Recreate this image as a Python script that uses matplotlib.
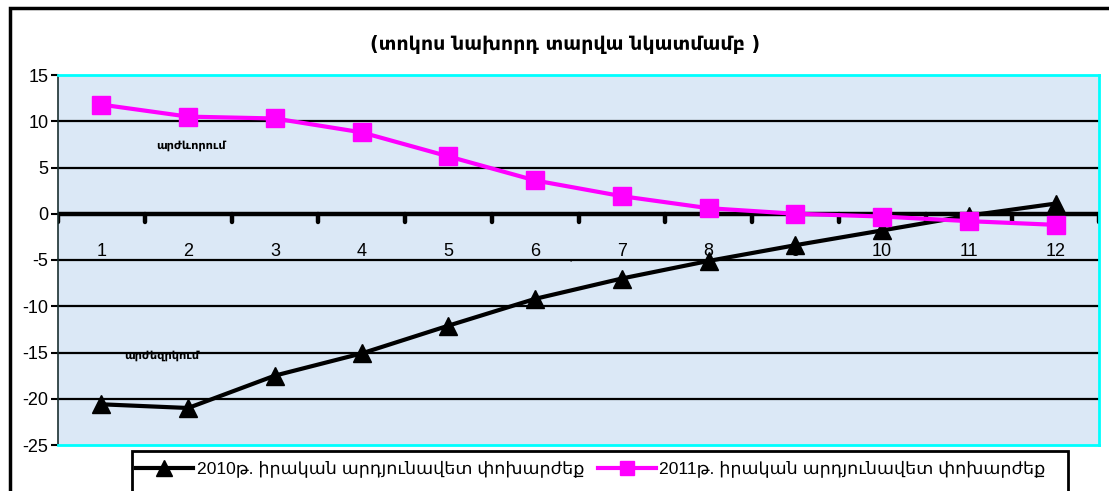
import matplotlib
matplotlib.use("Agg")
import matplotlib.pyplot as plt
from matplotlib.patches import Rectangle
from matplotlib.lines import Line2D
import numpy as np

plt.rcParams["font.family"] = ["Liberation Sans", "DejaVu Sans"]
plt.rcParams["axes.unicode_minus"] = False

months = list(range(1, 13))
rate_2010 = [-20.6, -21.0, -17.5, -15.1, -12.1, -9.2, -7.0, -5.1, -3.4, -1.8, -0.2, 1.1]
rate_2011 = [11.8, 10.5, 10.3, 8.8, 6.2, 3.6, 1.9, 0.6, 0.0, -0.3, -0.8, -1.2]
label_2010 = "2010թ. իրական արդյունավետ փոխարժեք"
label_2011 = "2011թ. իրական արդյունավետ փոխարժեք"
title = "(տոկոս նախորդ տարվա նկատմամբ )"
y_ticks = [15, 10, 5, 0, -5, -10, -15, -20, -25]

W, H = 1109, 491
fig = plt.figure(figsize=(W / 100, H / 100), dpi=100)
fig.patch.set_facecolor("white")

# outer frame (only left and top visible)
fig.patches.append(Rectangle((10 / W, -0.2), 1.2, 1.2 - 8 / H,
                             transform=fig.transFigure, fill=False,
                             edgecolor="black", lw=2.5))

ax = fig.add_axes([58 / W, 1 - 445 / H, (1099 - 58) / W, (445 - 75) / H])
ax.set_facecolor("#dbe8f6")
ax.set_xlim(0.5, 12.5)
ax.set_ylim(-25, 15)

for yv in y_ticks:
    if yv in (15, -25, 0):
        continue
    ax.axhline(yv, color="black", lw=1.6, zorder=1)

for s in ("top", "right", "bottom"):
    ax.spines[s].set_color("#00ffff")
    ax.spines[s].set_linewidth(2)
ax.spines["left"].set_color("#1a3030")
ax.spines["left"].set_linewidth(1.2)

ax.set_yticks(y_ticks)
ax.tick_params(axis="y", length=5, width=1.5, labelsize=13, pad=2)

# zero line with category-boundary ticks
ax.axhline(0, color="black", lw=3.2, zorder=2)
ax.set_xticks([])
for b in np.arange(0.5, 13, 1.0):
    ax.plot([b, b], [0, -0.85], color="black", lw=3.2, solid_capstyle="round", zorder=2)
for m in months:
    ax.text(m, -4.1, str(m), ha="center", va="center", fontsize=13, zorder=3)

ax.plot(months, rate_2010, color="black", lw=3, marker="^", markersize=13.5,
        zorder=4, label=label_2010)
ax.plot(months, rate_2011, color="#ff00ff", lw=3, marker="s", markersize=12.5,
        zorder=5, label=label_2011)

ax.text(2.03, 7.4, "արժևորում", ha="center", va="center", fontsize=8.2,
        fontweight="bold", family="DejaVu Sans")
ax.text(1.69, -15.35, "արժեզրկում", ha="center", va="center", fontsize=8.2,
        fontweight="bold", family="DejaVu Sans")
ax.text(6.4, -5.7, "`", ha="center", va="center", fontsize=8)

fig.text(565 / W, 1 - 45 / H, title, ha="center", va="center", fontsize=13.7,
         fontweight="bold", family="DejaVu Sans")

# legend box
fig.patches.append(Rectangle((132 / W, -0.1), (1068 - 132) / W, 0.1 + 1 - 451 / H,
                             transform=fig.transFigure, fill=False,
                             edgecolor="black", lw=2))
handles = [
    Line2D([], [], color="black", lw=3, marker="^", markersize=11),
    Line2D([], [], color="#ff00ff", lw=3, marker="s", markersize=10),
]
fig.legend(handles, [label_2010, label_2011], loc="center left",
           bbox_to_anchor=(132 / W, 1 - 469 / H), ncol=2, frameon=False,
           handlelength=3.3, handletextpad=0.2, columnspacing=0.8,
           borderaxespad=0, borderpad=0.2,
           prop={"family": ["Liberation Sans", "DejaVu Sans"], "size": 12.6})

fig.savefig("out.png", dpi=100)
